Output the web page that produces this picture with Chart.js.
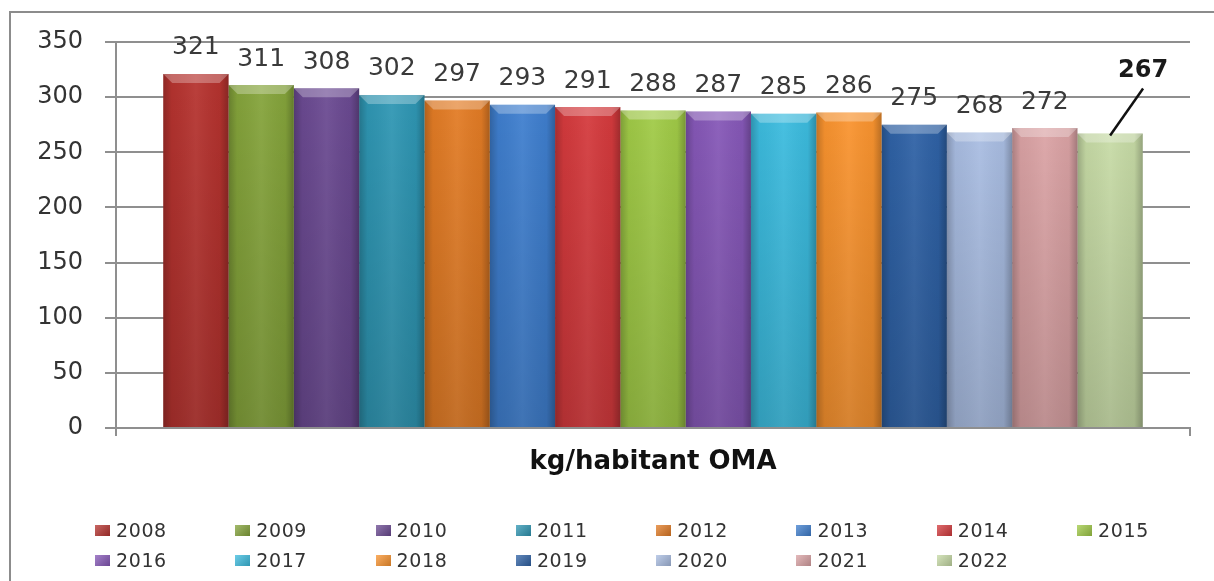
<!DOCTYPE html>
<html>
<head>
<meta charset="utf-8">
<script src="https://cdn.jsdelivr.net/npm/chart.js@4.4.1/dist/chart.umd.min.js"></script>
<style>
  html, body { margin: 0; padding: 0; background: #fff; }
  #wrap { position: relative; width: 1214px; height: 581px; overflow: hidden; }
  #chartCanvas { position: absolute; left: 0; top: 0; }
  #frame {
    position: absolute; left: 9px; top: 11px; width: 1210px; height: 580px;
    border-left: 2px solid #8c8c8c; border-top: 2px solid #8c8c8c; pointer-events: none;
  }
  #legend {
    position: absolute; left: 95px; top: 520px;
    display: grid; grid-template-columns: repeat(8, 140.3px); row-gap: 10px;
    font-family: "DejaVu Sans", sans-serif; font-size: 19px; letter-spacing: 0.6px; color: #333;
  }
  #legend .item { display: flex; align-items: center; height: 20px; }
  #legend .box { width: 15px; height: 11px; margin-right: 6px; }
</style>
</head>
<body>
<div id="wrap">
  <canvas id="chartCanvas" width="1214" height="581"></canvas>
  <div id="frame"></div>
  <div id="legend"></div>
</div>
<script>
// Chart data
const categories = ['kg/habitant OMA'];
const years = ['2008', '2009', '2010', '2011', '2012', '2013', '2014', '2015',
               '2016', '2017', '2018', '2019', '2020', '2021', '2022'];
const values = [321, 311, 308, 302, 297, 293, 291, 288, 287, 285, 286, 275, 268, 272, 267];
const barColors = ['#b6332f', '#85a43b', '#6b4a92', '#2f97b4', '#e37c25', '#3f7fcf', '#d53a3d', '#a1cb47',
                   '#8658b8', '#3cbcdf', '#fa942f', '#2f62a6', '#a9bde2', '#dba3a5', '#c7dba6'];
const yMin = 0;
const yMax = 350;
const yStep = 50;
const highlightYear = '2022';

// Bevel look on top of each bar
const bevelPlugin = {
    id: 'bevel',
    afterDatasetsDraw(chart) {
        const ctx = chart.ctx;
        chart.data.datasets.forEach((ds, i) => {
            const bar = chart.getDatasetMeta(i).data[0];
            if (!bar) return;
            const x0 = bar.x - bar.width / 2;
            const x1 = bar.x + bar.width / 2;
            const top = bar.y;
            const base = bar.base;
            const b = 9;
            ctx.save();
            // sides
            let g = ctx.createLinearGradient(x0, 0, x1, 0);
            g.addColorStop(0, 'rgba(0,0,0,0.22)');
            g.addColorStop(0.13, 'rgba(0,0,0,0.04)');
            g.addColorStop(0.5, 'rgba(255,255,255,0.06)');
            g.addColorStop(0.87, 'rgba(0,0,0,0.04)');
            g.addColorStop(1, 'rgba(0,0,0,0.25)');
            ctx.fillStyle = g;
            ctx.fillRect(x0, top, x1 - x0, base - top);
            // darker toward the bottom
            g = ctx.createLinearGradient(0, top, 0, base);
            g.addColorStop(0, 'rgba(0,0,0,0)');
            g.addColorStop(1, 'rgba(0,0,0,0.14)');
            ctx.fillStyle = g;
            ctx.fillRect(x0, top, x1 - x0, base - top);
            // top bevel
            ctx.beginPath();
            ctx.moveTo(x0, top);
            ctx.lineTo(x1, top);
            ctx.lineTo(x1 - b, top + b);
            ctx.lineTo(x0 + b, top + b);
            ctx.closePath();
            ctx.fillStyle = 'rgba(255,255,255,0.28)';
            ctx.fill();
            ctx.restore();
        });
    }
};

// Value labels above bars, with a leader line for the last year
const valueLabelPlugin = {
    id: 'valueLabels',
    afterDatasetsDraw(chart) {
        const ctx = chart.ctx;
        ctx.save();
        ctx.textAlign = 'center';
        ctx.textBaseline = 'middle';
        chart.data.datasets.forEach((ds, i) => {
            const bar = chart.getDatasetMeta(i).data[0];
            if (!bar) return;
            const text = String(ds.data[0]);
            if (ds.label === highlightYear) {
                ctx.strokeStyle = '#111';
                ctx.lineWidth = 2.5;
                ctx.beginPath();
                ctx.moveTo(bar.x, bar.y + 2);
                ctx.lineTo(bar.x + 33, bar.y - 45);
                ctx.stroke();
                ctx.fillStyle = '#1a1a1a';
                ctx.font = 'bold 24px "DejaVu Sans"';
                ctx.fillText(text, bar.x + 33, bar.y - 63);
            } else {
                ctx.fillStyle = '#3a3a3a';
                ctx.font = '25px "DejaVu Sans"';
                ctx.fillText(text, bar.x, bar.y - 26);
            }
        });
        ctx.restore();
    }
};

const datasets = years.map((yr, i) => ({
    label: yr,
    data: [values[i]],
    backgroundColor: barColors[i],
    borderWidth: 0,
    categoryPercentage: 0.912,
    barPercentage: 1.0
}));

const gridGrey = '#8f8f8f';

new Chart(document.getElementById('chartCanvas').getContext('2d'), {
    type: 'bar',
    data: { labels: categories, datasets: datasets },
    options: {
        responsive: false,
        animation: false,
        layout: { padding: { left: 0, top: 42, right: 24, bottom: 93 } },
        plugins: {
            legend: { display: false },
            tooltip: { enabled: false }
        },
        scales: {
            x: {
                offset: true,
                grid: {
                    display: true, offset: true, drawOnChartArea: false, drawTicks: true,
                    tickLength: 8, color: gridGrey, lineWidth: 2
                },
                border: { display: true, color: gridGrey, width: 2 },
                ticks: {
                    color: '#111', padding: 11,
                    font: { family: 'DejaVu Sans', size: 26, weight: 'bold' }
                },
                afterFit(scale) { scale.height = 60; }
            },
            y: {
                min: yMin,
                max: yMax,
                ticks: {
                    stepSize: yStep, color: '#333', padding: 22,
                    font: { family: 'DejaVu Sans', size: 24 }
                },
                grid: { color: gridGrey, lineWidth: 2, tickLength: 11 },
                border: { display: true, color: gridGrey, width: 2 },
                afterFit(scale) { scale.width = 116; }
            }
        }
    },
    plugins: [bevelPlugin, valueLabelPlugin]
});

// Legend: 8 columns, two rows
const legendEl = document.getElementById('legend');
years.forEach((yr, i) => {
    const item = document.createElement('div');
    item.className = 'item';
    const box = document.createElement('span');
    box.className = 'box';
    box.style.background = 'linear-gradient(135deg, rgba(255,255,255,0.25), rgba(0,0,0,0.2)), ' + barColors[i];
    const label = document.createElement('span');
    label.textContent = yr;
    item.appendChild(box);
    item.appendChild(label);
    legendEl.appendChild(item);
});
</script>
</body>
</html>
